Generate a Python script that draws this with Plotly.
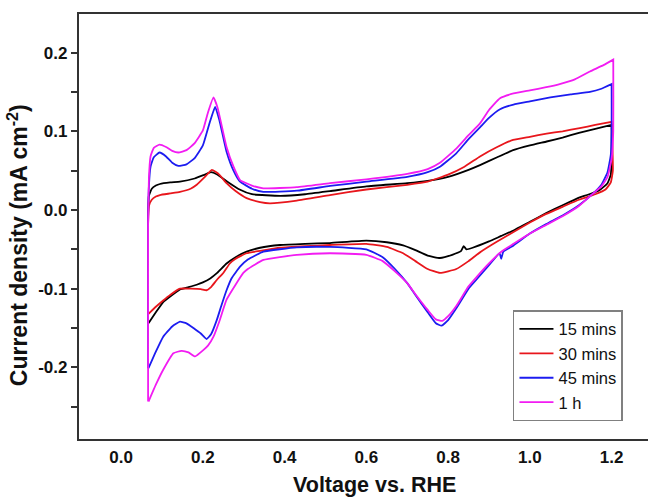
import plotly.graph_objects as go

# ---------------- data (Voltage vs. RHE, current density mA cm^-2) ----------------
series_names = ["15 mins", "30 mins", "45 mins", "1 h"]
series_colors = ["#000000", "#e8161c", "#1c1cf0", "#f21cf2"]

# 15 mins
v15_up = [0.066, 0.066, 0.068, 0.075, 0.085, 0.095, 0.120, 0.144, 0.180, 0.205, 0.220, 0.235, 0.260, 0.290,
          0.320, 0.390, 0.450, 0.511, 0.600, 0.700, 0.750, 0.800, 0.850, 0.878, 0.920, 0.959, 1.000,
          1.041, 1.080, 1.120, 1.160, 1.200]
i15_up = [-0.144, -0.010, 0.018, 0.027, 0.031, 0.033, 0.035, 0.036, 0.040, 0.045, 0.048, 0.045, 0.036, 0.026,
          0.020, 0.018, 0.020, 0.024, 0.030, 0.034, 0.037, 0.042, 0.051, 0.057, 0.067, 0.076, 0.082,
          0.087, 0.092, 0.098, 0.103, 0.108]
v15_dn = [1.200, 1.200, 1.198, 1.190, 1.170, 1.140, 1.122, 1.080, 1.040, 1.000, 0.960, 0.930, 0.900,
          0.860, 0.845, 0.838, 0.832, 0.810, 0.780, 0.750, 0.720, 0.690, 0.650, 0.600, 0.511, 0.450,
          0.389, 0.340, 0.307, 0.280, 0.258, 0.235, 0.218, 0.200, 0.185, 0.165, 0.144, 0.120, 0.103,
          0.085, 0.067]
i15_dn = [0.108, 0.070, 0.045, 0.034, 0.025, 0.019, 0.016, 0.006, -0.004, -0.015, -0.026, -0.033, -0.040,
          -0.048, -0.050, -0.046, -0.052, -0.057, -0.061, -0.058, -0.051, -0.045, -0.041, -0.039, -0.042,
          -0.043, -0.0445, -0.048, -0.053, -0.060, -0.068, -0.080, -0.087, -0.092, -0.095, -0.098,
          -0.101, -0.110, -0.117, -0.130, -0.144]

# 30 mins
v30_up = [0.066, 0.066, 0.068, 0.075, 0.085, 0.095, 0.120, 0.144, 0.170, 0.185, 0.205, 0.222, 0.240, 0.258,
          0.280, 0.307, 0.340, 0.364, 0.430, 0.511, 0.600, 0.700, 0.750, 0.800, 0.840, 0.878, 0.920,
          0.959, 1.000, 1.041, 1.080, 1.122, 1.160, 1.200]
i30_up = [-0.132, -0.020, 0.005, 0.013, 0.017, 0.019, 0.021, 0.023, 0.027, 0.032, 0.042, 0.051, 0.045, 0.034,
          0.024, 0.015, 0.010, 0.0085, 0.012, 0.019, 0.026, 0.032, 0.036, 0.045, 0.055, 0.068, 0.080,
          0.089, 0.093, 0.097, 0.100, 0.104, 0.108, 0.112]
v30_dn = [1.200, 1.202, 1.203, 1.198, 1.185, 1.160, 1.120, 1.080, 1.040, 1.000, 0.960, 0.920, 0.880,
          0.850, 0.820, 0.780, 0.750, 0.720, 0.690, 0.650, 0.600, 0.511, 0.450, 0.389, 0.340, 0.307,
          0.280, 0.266, 0.250, 0.234, 0.220, 0.209, 0.195, 0.170, 0.144, 0.120, 0.103, 0.085, 0.067]
i30_dn = [0.112, 0.080, 0.050, 0.035, 0.026, 0.020, 0.013, 0.004, -0.005, -0.016, -0.028, -0.040, -0.053,
          -0.065, -0.075, -0.080, -0.075, -0.065, -0.055, -0.047, -0.043, -0.0445, -0.046, -0.048,
          -0.052, -0.055, -0.062, -0.068, -0.080, -0.089, -0.098, -0.102, -0.1005, -0.100, -0.100,
          -0.108, -0.115, -0.123, -0.132]

# 45 mins
v45_up = [0.066, 0.066, 0.068, 0.072, 0.080, 0.094, 0.110, 0.125, 0.140, 0.160, 0.180, 0.200, 0.215,
          0.230, 0.240, 0.258, 0.275, 0.291, 0.320, 0.348, 0.430, 0.511, 0.600, 0.700, 0.750, 0.780,
          0.820, 0.850, 0.878, 0.900, 0.927, 0.960, 1.000, 1.050, 1.100, 1.147, 1.175, 1.200]
i45_up = [-0.201, -0.020, 0.030, 0.055, 0.067, 0.073, 0.068, 0.060, 0.056, 0.058, 0.066, 0.082, 0.108,
          0.131, 0.115, 0.074, 0.050, 0.036, 0.027, 0.023, 0.0245, 0.0305, 0.036, 0.042, 0.048, 0.055,
          0.072, 0.090, 0.105, 0.117, 0.128, 0.134, 0.138, 0.143, 0.147, 0.150, 0.154, 0.160]
v45_dn = [1.200, 1.200, 1.198, 1.190, 1.175, 1.155, 1.120, 1.080, 1.040, 1.000, 0.960, 0.935, 0.930,
          0.926, 0.900, 0.870, 0.850, 0.820, 0.800, 0.784, 0.770, 0.750, 0.720, 0.700, 0.670, 0.640,
          0.600, 0.511, 0.430, 0.348, 0.310, 0.291, 0.270, 0.258, 0.245, 0.234, 0.220, 0.209, 0.195,
          0.177, 0.160, 0.144, 0.125, 0.103, 0.085, 0.067]
i45_dn = [0.160, 0.100, 0.070, 0.048, 0.032, 0.021, 0.006, -0.007, -0.018, -0.030, -0.045, -0.053, -0.062,
          -0.055, -0.070, -0.088, -0.100, -0.125, -0.140, -0.147, -0.144, -0.130, -0.108, -0.093,
          -0.075, -0.060, -0.050, -0.047, -0.0475, -0.053, -0.063, -0.072, -0.087, -0.102, -0.122,
          -0.140, -0.158, -0.164, -0.157, -0.150, -0.144, -0.142, -0.148, -0.161, -0.180, -0.201]

# 1 h
v60_up = [0.066, 0.066, 0.068, 0.072, 0.080, 0.094, 0.110, 0.125, 0.140, 0.160, 0.180, 0.200, 0.212,
          0.226, 0.236, 0.258, 0.275, 0.291, 0.320, 0.348, 0.430, 0.511, 0.600, 0.700, 0.750, 0.780,
          0.820, 0.850, 0.878, 0.900, 0.927, 0.960, 1.000, 1.040, 1.073, 1.110, 1.147, 1.180, 1.204]
i60_up = [-0.2435, -0.020, 0.040, 0.068, 0.079, 0.083, 0.080, 0.075, 0.073, 0.076, 0.085, 0.101, 0.123,
          0.143, 0.130, 0.080, 0.055, 0.038, 0.031, 0.0275, 0.029, 0.034, 0.039, 0.046, 0.052, 0.060,
          0.078, 0.095, 0.110, 0.127, 0.142, 0.148, 0.152, 0.156, 0.160, 0.166, 0.176, 0.184, 0.191]
v60_dn = [1.204, 1.204, 1.200, 1.190, 1.175, 1.155, 1.120, 1.080, 1.040, 1.000, 0.960, 0.930, 0.900,
          0.870, 0.850, 0.820, 0.800, 0.786, 0.770, 0.750, 0.720, 0.700, 0.670, 0.640, 0.600, 0.511,
          0.430, 0.348, 0.310, 0.299, 0.280, 0.258, 0.240, 0.226, 0.213, 0.201, 0.181, 0.165, 0.148,
          0.128, 0.103, 0.085, 0.067]
i60_dn = [0.191, 0.100, 0.065, 0.042, 0.030, 0.021, 0.005, -0.008, -0.019, -0.030, -0.043, -0.053, -0.068,
          -0.085, -0.097, -0.122, -0.135, -0.141, -0.139, -0.127, -0.107, -0.093, -0.078, -0.065,
          -0.057, -0.055, -0.057, -0.0635, -0.075, -0.080, -0.095, -0.114, -0.142, -0.161, -0.172,
          -0.178, -0.186, -0.181, -0.179, -0.182, -0.203, -0.222, -0.2435]

x_tick_vals = [0.0, 0.2, 0.4, 0.6, 0.8, 1.0, 1.2]
x_tick_text = ["0.0", "0.2", "0.4", "0.6", "0.8", "1.0", "1.2"]
y_tick_vals = [-0.2, -0.1, 0.0, 0.1, 0.2]
y_tick_text = ["-0.2", "-0.1", "0.0", "0.1", "0.2"]

x_title = "Voltage vs. RHE"
y_title = "Current density (mA cm<sup>-2</sup>)"

# ---------------- figure ----------------
curves = [
    (v15_up + v15_dn, i15_up + i15_dn),
    (v30_up + v30_dn, i30_up + i30_dn),
    (v45_up + v45_dn, i45_up + i45_dn),
    (v60_up + v60_dn, i60_up + i60_dn),
]

fig = go.Figure()
for (vx, iy), name, col in zip(curves, series_names, series_colors):
    fig.add_trace(go.Scatter(x=vx, y=iy, mode="lines", name=name,
                             line=dict(color=col, width=1.8, shape="spline", smoothing=0.4)))

FONT = "Arial, 'Liberation Sans', Helvetica, sans-serif"

fig.update_layout(
    width=648, height=497,
    margin=dict(l=79, r=0, t=14, b=58, pad=0),
    paper_bgcolor="white", plot_bgcolor="white",
    font=dict(family=FONT, color="#111111"),
    showlegend=True,
    legend=dict(
        x=0.956, y=0.042, xanchor="right", yanchor="bottom",
        bgcolor="white", bordercolor="#808080", borderwidth=1.5,
        font=dict(family=FONT, size=16.5, color="#111111"),
        tracegroupgap=0, itemwidth=34,
    ),
    xaxis=dict(
        range=[-0.103, 1.289], showgrid=False, zeroline=False,
        showline=True, linecolor="#333333", linewidth=2.2, mirror=True,
        tickmode="array", tickvals=x_tick_vals, ticktext=x_tick_text,
        ticks="outside", ticklen=1, tickcolor="rgba(0,0,0,0)",
        tickfont=dict(family=FONT, size=17, weight="bold", color="#111111"),
    ),
    yaxis=dict(
        range=[-0.291, 0.249], showgrid=False, zeroline=False,
        showline=True, linecolor="#333333", linewidth=2.2, mirror=False,
        tickmode="array", tickvals=y_tick_vals, ticktext=y_tick_text,
        ticks="outside", ticklen=6, tickwidth=1.5, tickcolor="#333333",
        minor=dict(ticks="outside", ticklen=6, tickwidth=1.5, tickcolor="#333333",
                   tickmode="linear", tick0=0.05, dtick=0.1, showgrid=False),
        tickfont=dict(family=FONT, size=17, weight="bold", color="#111111"),
    ),
    annotations=[
        dict(text=x_title, xref="paper", yref="paper", x=0.52, y=-0.108,
             xanchor="center", yanchor="middle", showarrow=False,
             font=dict(family=FONT, size=21.5, weight="bold", color="#111111")),
        dict(text=y_title, xref="paper", yref="paper", x=-0.1072, y=0.456,
             xanchor="center", yanchor="middle", showarrow=False, textangle=-90,
             font=dict(family=FONT, size=23, weight="bold", color="#111111")),
    ],
)

fig.write_html("out.html")
